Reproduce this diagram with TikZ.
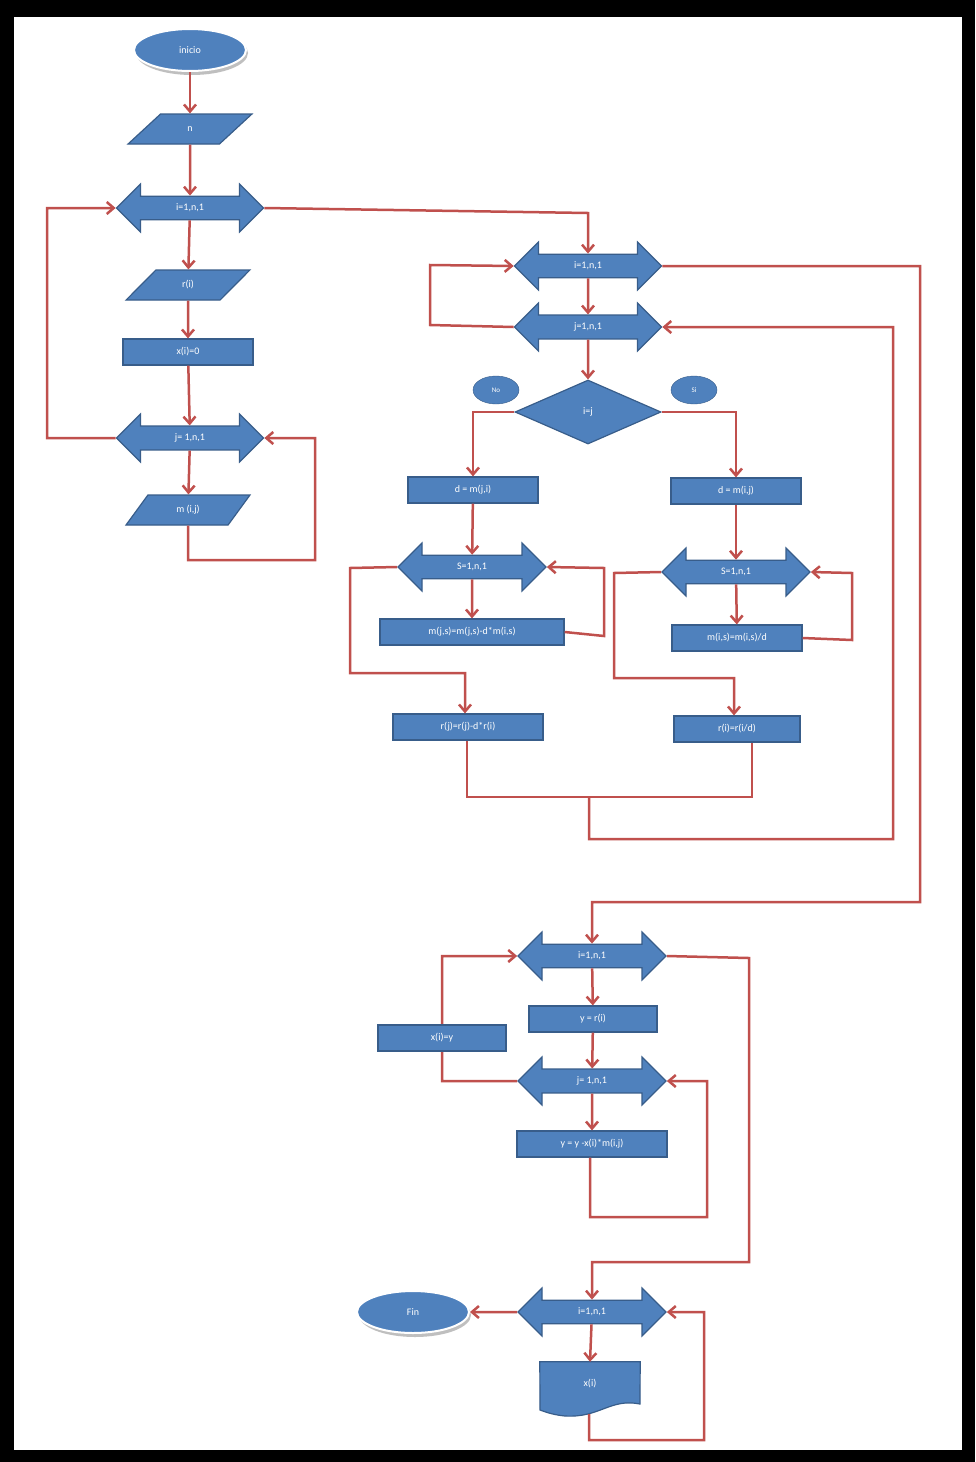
\documentclass[tikz,border=0pt]{standalone}
\usepackage{fontspec}
\setmainfont{Carlito}
\usetikzlibrary{shapes.geometric,shapes.arrows,arrows.meta}
\definecolor{bfill}{RGB}{79,129,189}
\definecolor{bdr}{RGB}{56,93,138}
\definecolor{lred}{RGB}{192,80,77}
\begin{document}
\begin{tikzpicture}[x=1pt,y=-1pt,
  every node/.style={font=\fontsize{10}{12}\selectfont, text=white},
  box/.style={rectangle, fill=bfill, draw=bdr, line width=1.2pt, minimum height=26pt, minimum width=#1, inner sep=2pt},
  par/.style={trapezium, trapezium left angle=60, trapezium right angle=120, trapezium stretches=true, fill=bfill, draw=bdr, line width=1.2pt, minimum height=30pt, minimum width=124pt, inner sep=2pt},
  dbl/.style={double arrow, double arrow head extend=11pt, fill=bfill, draw=bdr, line width=1.2pt, minimum height=#1, minimum width=48pt, inner ysep=6pt, inner xsep=2pt},
  term/.style={ellipse, fill=bfill, draw=white, line width=2pt, minimum width=#1, minimum height=42pt},
  dia/.style={diamond, aspect=2.3, fill=bfill, draw=bdr, line width=1.2pt, minimum width=146pt, minimum height=64pt, inner sep=0pt},
  ar/.style={draw=lred, line width=2.5pt, -{Straight Barb[length=7pt,width=12pt]}},
  ln/.style={draw=lred, line width=2.5pt}]
\fill[black] (0,0) rectangle (975,1462);
\fill[white] (14,17) rectangle (962,1450);

% left column
\fill[gray!50] (192,53) ellipse (56pt and 22pt);
\node[term=112pt] (ini) at (190,50) {inicio};
\node[par] (n) at (190,129) {n};
\node[dbl=147pt] (i1) at (190,208) {i=1,n,1};
\node[par] (ri) at (188,285) {r(i)};
\node[box=130pt] (x0) at (188,352) {x(i)=0};
\node[dbl=147pt] (j1) at (190,438) {j= 1,n,1};
\node[par] (mij) at (188,510) {m (i,j)};

% right top
\node[dbl=147pt] (i2) at (588,266) {i=1,n,1};
\node[dbl=147pt] (j2) at (588,327) {j=1,n,1};
\node[dia] (d) at (588,412) {i=j};
\node[ellipse, fill=bfill, draw=bdr, minimum width=46pt, minimum height=28pt, inner sep=0pt, font=\fontsize{7}{8}\selectfont] (no) at (496,390) {No};
\node[ellipse, fill=bfill, draw=bdr, minimum width=46pt, minimum height=28pt, inner sep=0pt, font=\fontsize{7}{8}\selectfont] (si) at (694,390) {Si};
\node[box=130pt] (dL) at (473,490) {d = m(j,i)};
\node[box=130pt] (dR) at (736,491) {d = m(i,j)};
\node[dbl=148pt] (sL) at (472,567) {S=1,n,1};
\node[dbl=148pt] (sR) at (736,572) {S=1,n,1};
\node[box=184pt] (mjs) at (472,632) {m(j,s)=m(j,s)-d*m(i,s)};
\node[box=130pt] (mis) at (737,638) {m(i,s)=m(i,s)/d};
\node[box=150pt] (rj) at (468,727) {r(j)=r(j)-d*r(i)};
\node[box=126pt] (rr) at (737,729) {r(i)=r(i/d)};

% bottom
\node[dbl=148pt] (i3) at (592,956) {i=1,n,1};
\node[box=128pt] (yr) at (593,1019) {y = r(i)};
\node[dbl=148pt] (j3) at (592,1081) {j= 1,n,1};
\node[box=150pt] (yy) at (592,1144) {y = y -x(i)*m(i,j)};
\node[dbl=148pt] (i4) at (592,1312) {i=1,n,1};
\fill[gray!50] (415,1315) ellipse (56pt and 22pt);
\node[term=112pt] (fin) at (413,1312) {Fin};
\node[minimum width=100pt, minimum height=44pt, inner sep=0pt] (xo) at (590,1384) {};
\draw[fill=bfill, draw=bdr, line width=1.2pt] (xo.north west) -- (xo.north east) -- (640,1404) .. controls (610,1398) and (600,1418) .. (565,1416) .. controls (555,1415) and (548,1413) .. (540,1410) -- cycle;
\node at (590,1384) {x(i)};

% connectors left
\draw[ar] (ini) -- (n);
\draw[ar] (n) -- (i1);
\draw[ar] (i1) -- (ri);
\draw[ar] (ri) -- (x0);
\draw[ar] (x0) -- (j1);
\draw[ar] (j1) -- (mij);
\draw[ar] (mij.south) -- (188,560) -- (315,560) -- (315,438) -- (j1.east);
\draw[ar] (j1.west) -- (47,438) -- (47,208) -- (i1.west);
\draw[ar] (i1.east) -- (588,213) -- (i2.north);

% right top
\draw[ar] (i2) -- (j2);
\draw[ar] (j2.west) -- (430,325) -- (430,265) -- (i2.west);
\draw[ar] (j2) -- (d);
\draw[ar] (d.west) -- (473,412) -- (dL.north);
\draw[ar] (d.east) -- (736,412) -- (dR.north);
\draw[ar] (dL) -- (sL);
\draw[ar] (sL) -- (mjs);
\draw[ar] (mjs.east) -- (604,636) -- (604,568) -- (sL.east);
\draw[ar] (sL.west) -- (350,568) -- (350,673) -- (465,673) -- (rj.north -| 465,0);
\draw[ar] (dR) -- (sR);
\draw[ar] (sR) -- (mis);
\draw[ar] (mis.east) -- (852,640) -- (852,573) -- (sR.east);
\draw[ar] (sR.west) -- (614,573) -- (614,678) -- (734,678) -- (rr.north -| 734,0);
\draw[ln] (rj.south -| 467,0) -- (467,797) -- (752,797) -- (rr.south -| 752,0);
\draw[ar] (589,797) -- (589,839) -- (893,839) -- (893,327) -- (j2.east);
\draw[ar] (i2.east) -- (920,266) -- (920,902) -- (592,902) -- (i3.north);

% bottom
\draw[ar] (i3) -- (yr);
\draw[ar] (yr) -- (j3);
\draw[ar] (j3) -- (yy);
\draw[ar] (yy.south -| 590,0) -- (590,1217) -- (707,1217) -- (707,1081) -- (j3.east);
\draw[ar] (j3.west) -- (442,1081) -- (442,956) -- (i3.west);
\node[box=128pt] (xy) at (442,1038) {x(i)=y};
\draw[ar] (i3.east) -- (749,958) -- (749,1262) -- (592,1262) -- (i4.north);
\draw[ar] (i4.west) -- (fin.east);
\draw[ar] (i4) -- (xo.north);
\draw[ar] (589,1414) -- (589,1440) -- (704,1440) -- (704,1312) -- (i4.east);
\end{tikzpicture}
\end{document}
